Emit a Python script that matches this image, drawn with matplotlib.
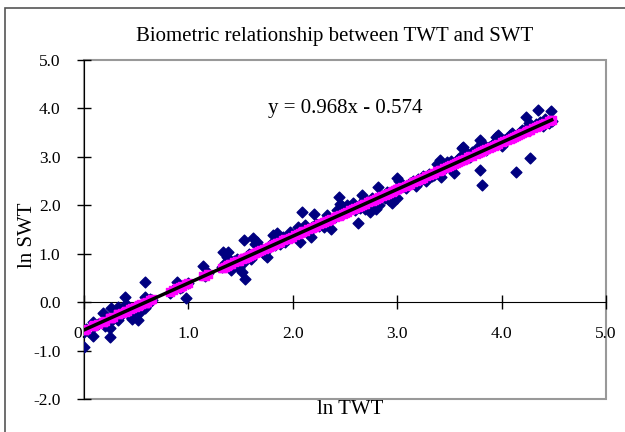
import matplotlib.pyplot as plt
from matplotlib.patches import Rectangle
import numpy as np

plt.rcParams['font.family'] = ['Liberation Serif', 'DejaVu Serif']

# ln TWT / ln SWT pairs
ln_twt = [0.00, 0.00, 0.02, 0.09, 0.09, 0.10, 0.13, 0.18, 0.18, 0.20, 0.25, 0.25, 0.26, 0.28,
          0.33, 0.33, 0.36, 0.39, 0.40, 0.41, 0.44, 0.46, 0.49, 0.52, 0.53, 0.55, 0.58, 0.58,
          0.58, 0.60, 0.63, 0.65,
          0.82, 0.85, 0.89, 0.92, 0.94, 0.98, 1.00,
          1.14, 1.16, 1.19,
          1.32, 1.33, 1.35, 1.37, 1.38, 1.40, 1.41, 1.44, 1.47, 1.48, 1.51, 1.53, 1.53, 1.54,
          1.56, 1.58, 1.60, 1.62, 1.64, 1.66, 1.68, 1.70, 1.72, 1.75, 1.77, 1.79, 1.81, 1.83,
          1.85, 1.86, 1.88, 1.91, 1.93, 1.95, 1.97, 1.99,
          2.02, 2.05, 2.07, 2.09, 2.10, 2.12, 2.15, 2.17, 2.18, 2.20, 2.22, 2.25, 2.28, 2.30,
          2.33, 2.35, 2.37, 2.40, 2.42, 2.44, 2.45, 2.48, 2.50, 2.52, 2.55, 2.58, 2.60, 2.62,
          2.64, 2.66, 2.68, 2.69, 2.72, 2.74, 2.76, 2.78, 2.80, 2.82, 2.83, 2.85, 2.88, 2.90,
          2.92, 2.95, 2.96, 2.98, 3.00, 3.00,
          3.02, 3.05, 3.08, 3.10, 3.12, 3.15, 3.18, 3.20, 3.23, 3.25, 3.28, 3.30, 3.33, 3.35,
          3.38, 3.40, 3.41, 3.42, 3.45, 3.48, 3.50, 3.52, 3.54, 3.56, 3.58, 3.60, 3.62, 3.63,
          3.65, 3.68, 3.70, 3.72, 3.75, 3.77, 3.79, 3.79, 3.81, 3.83, 3.85, 3.88, 3.90, 3.93,
          3.95, 3.97, 4.00, 4.02, 4.05, 4.08, 4.10, 4.12, 4.14, 4.16, 4.18, 4.20, 4.23, 4.24,
          4.26, 4.27, 4.30, 4.33, 4.35, 4.37, 4.40, 4.42, 4.45, 4.47, 4.48]
ln_swt = [-0.92, -0.62, -0.55, -0.70, -0.41, -0.50, -0.45, -0.22, -0.40, -0.50, -0.72, -0.54, -0.13, -0.35,
          -0.10, -0.37, -0.25, 0.11, -0.03, -0.18, -0.28, -0.34, -0.17, -0.37, -0.23, -0.10, 0.41, 0.11,
          -0.13, -0.05, 0.07, 0.05,
          0.18, 0.25, 0.42, 0.30, 0.32, 0.08, 0.40,
          0.74, 0.55, 0.60,
          0.72, 1.04, 0.80, 0.94, 1.04, 0.75, 0.66, 0.85, 0.90, 0.70, 0.63, 1.28, 0.82, 0.47,
          0.95, 1.00, 0.90, 1.32, 1.21, 1.25, 1.05, 1.10, 1.00, 0.94, 1.12, 1.20, 1.38, 1.18,
          1.42, 1.28, 1.20, 1.35, 1.25, 1.30, 1.45, 1.38,
          1.40, 1.56, 1.25, 1.87, 1.50, 1.60, 1.42, 1.35, 1.55, 1.83, 1.62, 1.58, 1.63, 1.55,
          1.80, 1.72, 1.52, 1.75, 1.90, 2.18, 2.02, 1.97, 1.88, 2.00, 1.95, 2.05, 1.90, 1.64,
          1.95, 2.21, 2.10, 1.92, 2.05, 1.87, 2.15, 2.00, 1.93, 2.38, 2.00, 2.20, 2.15, 2.28,
          2.10, 2.04, 2.12, 2.30, 2.56, 2.15,
          2.50, 2.40, 2.35, 2.42, 2.45, 2.50, 2.40, 2.55, 2.52, 2.60, 2.50, 2.65, 2.60, 2.62,
          2.85, 2.80, 2.93, 2.59, 2.75, 2.90, 2.85, 2.92, 2.66, 2.88, 2.95, 3.00, 3.18, 3.21,
          3.00, 3.05, 3.00, 3.10, 3.12, 3.20, 3.35, 2.73, 2.42, 3.25, 3.15, 3.20, 3.22, 3.28,
          3.42, 3.45, 3.22, 3.35, 3.38, 3.45, 3.50, 3.42, 2.69, 3.48, 3.52, 3.55, 3.83, 3.60,
          3.70, 2.97, 3.62, 3.68, 3.97, 3.72, 3.63, 3.78, 3.70, 3.95, 3.75]

slope = 0.968
intercept = -0.574

x = np.array(ln_twt)
y = np.array(ln_swt)
y_pred = slope * x + intercept

fig = plt.figure(figsize=(6.25, 4.32), dpi=100)
ax = fig.add_axes([84/625, 1 - 399/432, 522/625, 339/432])

ax.scatter(x, y, marker='D', s=30, color='#000080', zorder=3)
ax.scatter(x, y_pred, marker='s', s=26, color='#FF00FF', zorder=4)
xl = np.array([x.min(), x.max()])
ax.plot(xl, slope * xl + intercept, color='black', lw=2.5, zorder=5)

ax.set_xlim(0, 5)
ax.set_ylim(-2, 5)
ax.set_xticks([0, 1, 2, 3, 4, 5])
ax.set_yticks([-2, -1, 0, 1, 2, 3, 4, 5])
ax.set_xticklabels(['0.0', '1.0', '2.0', '3.0', '4.0', '5.0'])
ax.set_yticklabels(['-2.0', '-1.0', '0.0', '1.0', '2.0', '3.0', '4.0', '5.0'])

ax.spines['bottom'].set_position(('data', 0))
for s in ['top', 'right']:
    ax.spines[s].set_visible(False)
ax.spines['left'].set_color('black')
ax.spines['bottom'].set_color('black')
ax.tick_params(axis='both', direction='inout', length=10, width=1, labelsize=12.5)
ax.tick_params(axis='x', pad=12)
ax.tick_params(axis='y', pad=12)

# plot area frame
ax.add_patch(Rectangle((0, 0), 1, 1, transform=ax.transAxes, fill=False,
                       edgecolor='#999999', lw=1.5, zorder=0, clip_on=False))

ax.text(2.5, 4.0, 'y = 0.968x - 0.574', fontsize=15, ha='center', va='center')
fig.text(335/625, 1 - 37/432, 'Biometric relationship between TWT and SWT',
         fontsize=15, ha='center', va='center')
fig.text(350/625, 1 - 410/432, 'ln TWT', fontsize=15, ha='center', va='center')
fig.text(28/625, 1 - 235/432, 'ln SWT', fontsize=15, ha='center', va='center', rotation=90)

# chart border
fig.patches.append(Rectangle((5/625, -0.1), 1.2, 1 - 8/432 + 0.1, transform=fig.transFigure,
                             fill=False, edgecolor='#555555', lw=1.2))

fig.savefig('out.png', dpi=100)
